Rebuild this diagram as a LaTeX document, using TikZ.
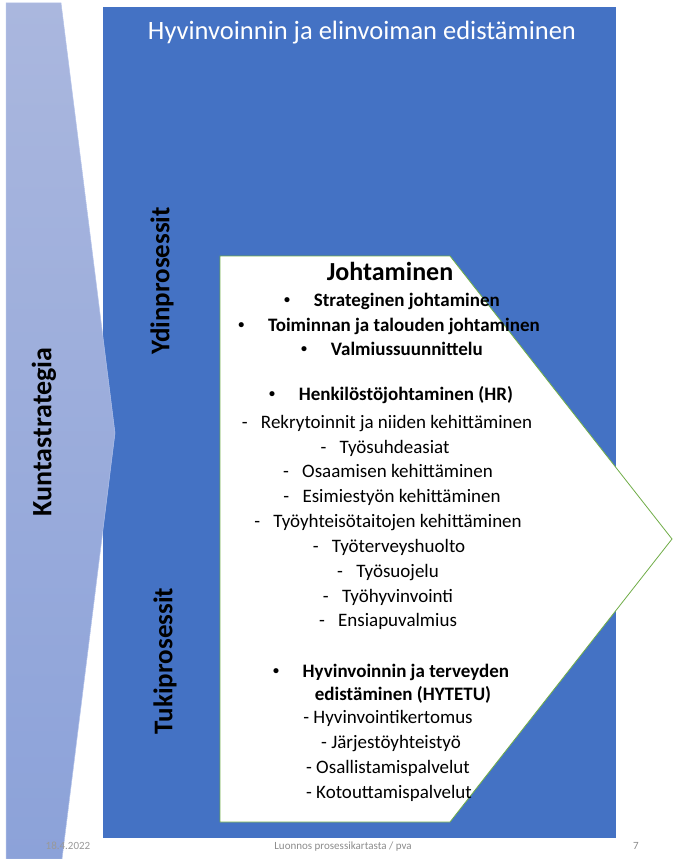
\documentclass[tikz,border=0pt]{standalone}
\usepackage{fontspec}
\setmainfont{Carlito}
\definecolor{officeblue}{HTML}{4472C4}
\definecolor{officegreen}{HTML}{70AD47}
\definecolor{chevtop}{HTML}{AAB7DE}
\definecolor{chevbot}{HTML}{8CA2D9}
\definecolor{chevline}{HTML}{B4C3EA}
\definecolor{footgray}{HTML}{8C8C8C}
\newcommand{\smbul}{\raisebox{2.6pt}{\fontsize{12}{12}\selectfont •}\hspace{1.25em}}
\begin{document}
\begin{tikzpicture}[x=1pt,y=-1pt,
  txt/.style={font=\fontsize{19}{23}\selectfont, anchor=base, text=black, inner sep=0pt},
  btxt/.style={txt, font=\fontsize{19}{23}\selectfont\bfseries},
  sidelabel/.style={rotate=90, font=\fontsize{27}{30}\selectfont\bfseries, text=black, inner sep=0pt},
  foot/.style={font=\fontsize{11}{13}\selectfont, text=footgray, anchor=base, inner sep=0pt}]
\useasboundingbox[fill=white] (0,0) rectangle (672,859);
% main blue rectangle
\fill[officeblue] (103,7) rectangle (616,838);
% left chevron
\shade[top color=chevtop, bottom color=chevbot, draw=chevline, line width=0.5pt]
  (6,3) -- (61,3) -- (115,433) -- (62,859) -- (6,859) -- cycle;
% white pentagon arrow
\draw[officegreen, fill=white, line width=0.8pt]
  (220,256) -- (450,256) -- (672,539) -- (450,822) -- (220,822) -- cycle;
% title
\node[font=\fontsize{26.5}{30}\selectfont, text=white, anchor=base, inner sep=0pt] (title) at (362,40) {Hyvinvoinnin ja elinvoiman edistäminen};
% side labels
\node[sidelabel, font=\fontsize{28}{30}\selectfont\bfseries] (kunta) at (44,432) {Kuntastrategia};
\node[sidelabel] (ydin) at (162,281) {Ydinprosessit};
\node[sidelabel] (tuki) at (165,661) {Tukiprosessit};
% pentagon text
\node[btxt, font=\fontsize{26}{30}\selectfont\bfseries] (joht) at (390,280) {Johtaminen};
\node[btxt] (b1) at (392,306) {\smbul Strateginen johtaminen};
\node[btxt] (b2) at (389,331) {\smbul Toiminnan ja talouden johtaminen};
\node[btxt] (b3) at (392,355) {\smbul Valmiussuunnittelu};
\node[btxt] (b4) at (391,400) {\smbul Henkilöstöjohtaminen (HR)};
\node[txt] (d1) at (387,428) {-\hspace{0.7em}Rekrytoinnit ja niiden kehittäminen};
\node[txt] (d2) at (385,453) {-\hspace{0.7em}Työsuhdeasiat};
\node[txt] (d3) at (388,477) {-\hspace{0.7em}Osaamisen kehittäminen};
\node[txt] (d4) at (392,502) {-\hspace{0.7em}Esimiestyön kehittäminen};
\node[txt] (d5) at (388,527) {-\hspace{0.7em}Työyhteisötaitojen kehittäminen};
\node[txt] (d6) at (389,552) {-\hspace{0.7em}Työterveyshuolto};
\node[txt] (d7) at (388,577) {-\hspace{0.7em}Työsuojelu};
\node[txt] (d8) at (388,602) {-\hspace{0.7em}Työhyvinvointi};
\node[txt] (d9) at (388,626) {-\hspace{0.7em}Ensiapuvalmius};
\node[btxt] (b5) at (391,677) {\smbul Hyvinvoinnin ja terveyden};
\node[btxt] (b5b) at (403,700) {edistäminen (HYTETU)};
\node[txt] (e1) at (388,723) {- Hyvinvointikertomus};
\node[txt] (e2) at (391,748) {- Järjestöyhteistyö};
\node[txt] (e3) at (388,773) {- Osallistamispalvelut};
\node[txt] (e4) at (389,798) {- Kotouttamispalvelut};
% footer
\node[foot, text=black!40] (date) at (68,849) {18.4.2022};
\node[foot] (ftxt) at (343,849) {Luonnos prosessikartasta / pva};
\node[foot] (pnum) at (636,849) {7};
\end{tikzpicture}
\end{document}
